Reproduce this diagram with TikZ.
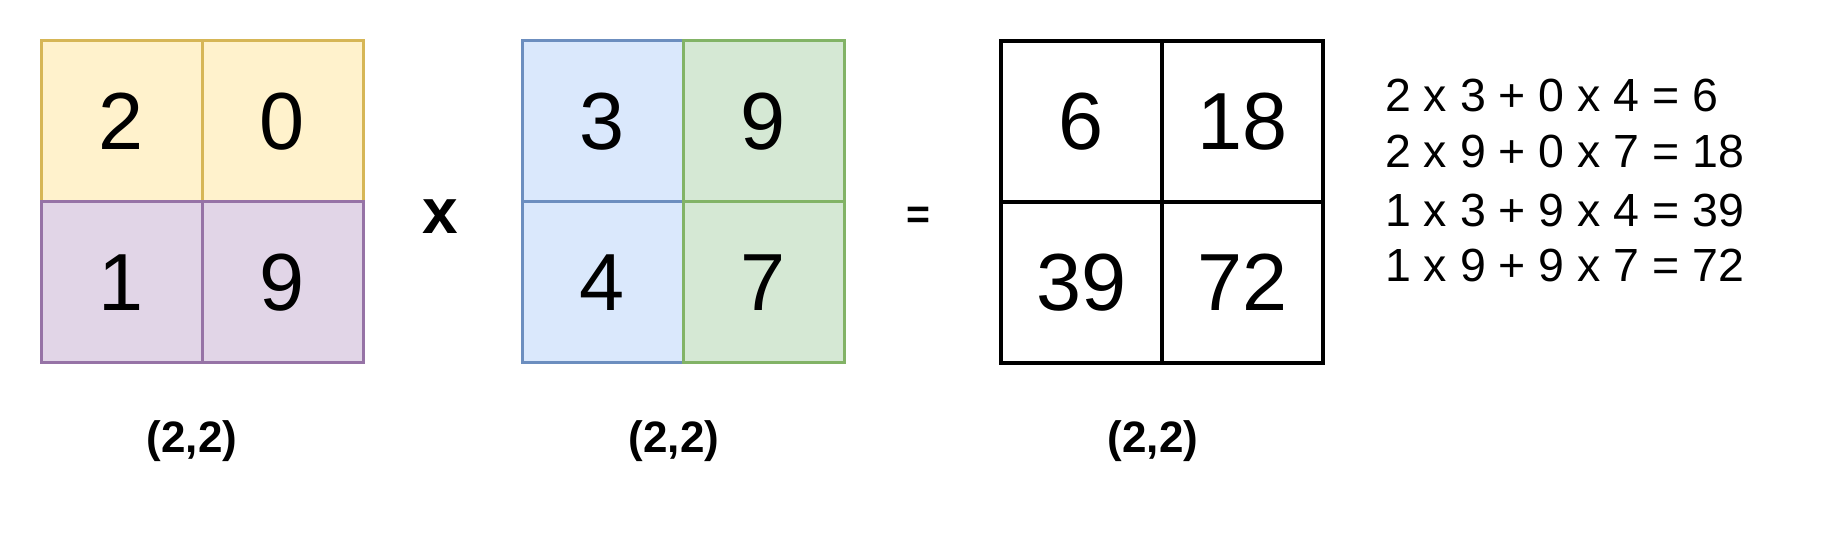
\documentclass[tikz,border=0pt]{standalone}
\usepackage{fontspec}
\setmainfont{Liberation Sans}
\usetikzlibrary{positioning}

\definecolor{ylwfill}{HTML}{FFF2CC}
\definecolor{ylwline}{HTML}{D6B656}
\definecolor{prpfill}{HTML}{E1D5E7}
\definecolor{prpline}{HTML}{9673A6}
\definecolor{blufill}{HTML}{DAE8FC}
\definecolor{bluline}{HTML}{6C8EBF}
\definecolor{grnfill}{HTML}{D5E8D4}
\definecolor{grnline}{HTML}{82B366}

\begin{document}
\begin{tikzpicture}[x=1pt,y=1pt,
	cell/.style={rectangle,minimum size=161pt,inner sep=0pt,outer sep=0pt,line width=3pt,
		font=\fontsize{81}{97}\selectfont},
	dimlabel/.style={anchor=base,inner sep=0pt,font=\bfseries\fontsize{44}{53}\selectfont},
	eqline/.style={anchor=base west,inner sep=0pt,font=\fontsize{46.5}{56}\selectfont}]
	%\draw[help lines] (0,0) grid (1844,548);
	\useasboundingbox (0,0) rectangle (1844,548);
	
	%MATRICE A
	\node[cell,draw=ylwline,fill=ylwfill] (a11) at (121.5,426.5) {2};
	\node[cell,draw=ylwline,fill=ylwfill,right=0pt of a11] (a12) {0};
	\node[cell,draw=prpline,fill=prpfill,below=0pt of a11] (a21) {1};
	\node[cell,draw=prpline,fill=prpfill,right=0pt of a21] (a22) {9};
	\node[dimlabel] (dimA) at (192,95) {(2,2)};
	
	%SIGNE FOIS
	\node[font=\bfseries\fontsize{64}{77}\selectfont,inner sep=0pt] (fois) at (440,331) {x};
	
	%MATRICE B
	\node[cell,draw=bluline,fill=blufill] (b11) at (602.5,426.5) {3};
	\node[cell,draw=bluline,fill=blufill,below=0pt of b11] (b21) {4};
	\node[cell,draw=grnline,fill=grnfill,right=0pt of b11] (b12) {9};
	\node[cell,draw=grnline,fill=grnfill,right=0pt of b21] (b22) {7};
	\node[dimlabel] (dimB) at (674,95) {(2,2)};
	
	%SIGNE EGAL
	\node[font=\bfseries\fontsize{41}{49}\selectfont,inner sep=0pt] (egal) at (918,330) {=};
	
	%MATRICE C
	\node[cell,draw=black,line width=3.5pt] (c11) at (1081.5,426.5) {6};
	\node[cell,draw=black,line width=3.5pt,right=0pt of c11] (c12) {18};
	\node[cell,draw=black,line width=3.5pt,below=0pt of c11] (c21) {39};
	\node[cell,draw=black,line width=3.5pt,right=0pt of c21] (c22) {72};
	\node[dimlabel] (dimC) at (1153,95) {(2,2)};
	
	%CALCULS
	\node[eqline] (eq1) at (1385,436) {2 x 3 + 0 x 4 = 6};
	\node[eqline] (eq2) at (1385,380) {2 x 9 + 0 x 7 = 18};
	\node[eqline] (eq3) at (1385,321) {1 x 3 + 9 x 4 = 39};
	\node[eqline] (eq4) at (1385,266) {1 x 9 + 9 x 7 = 72};
	
\end{tikzpicture}
\end{document}
